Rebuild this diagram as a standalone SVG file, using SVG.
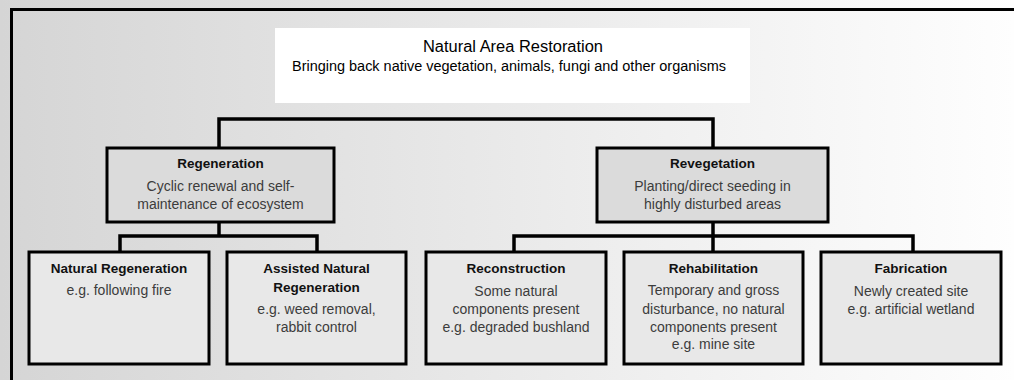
<svg xmlns="http://www.w3.org/2000/svg" width="1014" height="380" viewBox="0 0 1014 380">
  <defs>
    <linearGradient id="bg" x1="0" y1="0" x2="1" y2="0">
      <stop offset="0" stop-color="#d5d5d5"/>
      <stop offset="1" stop-color="#fefefe"/>
    </linearGradient>
  </defs>
  <style>
    .frame { fill: none; stroke: #000; stroke-width: 3; }
    .conn { fill: none; stroke: #000; stroke-width: 3.5; }
    .mid { fill: #dbdbdb; stroke: #000; stroke-width: 3; }
    .leaf { fill: #e8e8e8; stroke: #000; stroke-width: 3; }
    .top { fill: #fff; }
    text { font-family: "Liberation Sans", Arial, sans-serif; text-anchor: middle; }
    .h0 { font-size: 16px; fill: #000; }
    .h0s { font-size: 14px; fill: #000; }
    .t { font-size: 13.5px; font-weight: bold; fill: #111; }
    .d { font-size: 14px; fill: #3c3c3c; }
  </style>
  <rect x="0" y="0" width="1014" height="380" fill="url(#bg)"/>
  <path class="frame" d="M11.5,380 V9.5 H1014"/>

  <g id="connectors">
    <path class="conn" d="M219,148 V119 H713 V148"/>
    <path class="conn" d="M219,222 V236 M120,252 V236 H317 V252"/>
    <path class="conn" d="M713,222 V252 M514,252 V236 H913 V252"/>
  </g>

  <g id="root">
    <rect class="top" x="275" y="28" width="475" height="75"/>
    <text class="h0" x="513" y="52" textLength="180" lengthAdjust="spacingAndGlyphs">Natural Area Restoration</text>
    <text class="h0s" x="509" y="71" textLength="434" lengthAdjust="spacingAndGlyphs">Bringing back native vegetation, animals, fungi and other organisms</text>
  </g>

  <g id="regeneration">
    <rect class="mid" x="107" y="148" width="227" height="74"/>
    <text class="t" x="220.5" y="168">Regeneration</text>
    <text class="d" x="220.5" y="191">Cyclic renewal and self-</text>
    <text class="d" x="220.5" y="209">maintenance of ecosystem</text>
  </g>

  <g id="revegetation">
    <rect class="mid" x="597" y="148" width="231" height="74"/>
    <text class="t" x="712.5" y="168">Revegetation</text>
    <text class="d" x="712.5" y="191">Planting/direct seeding in</text>
    <text class="d" x="712.5" y="209">highly disturbed areas</text>
  </g>

  <g id="natural-regeneration">
    <rect class="leaf" x="29" y="252" width="180" height="112"/>
    <text class="t" x="119" y="273">Natural Regeneration</text>
    <text class="d" x="119" y="295">e.g. following fire</text>
  </g>

  <g id="assisted-natural-regeneration">
    <rect class="leaf" x="227" y="252" width="179" height="112"/>
    <text class="t" x="316.5" y="273">Assisted Natural</text>
    <text class="t" x="316.5" y="292">Regeneration</text>
    <text class="d" x="316.5" y="314">e.g. weed removal,</text>
    <text class="d" x="316.5" y="332">rabbit control</text>
  </g>

  <g id="reconstruction">
    <rect class="leaf" x="426" y="252" width="180" height="112"/>
    <text class="t" x="516" y="273">Reconstruction</text>
    <text class="d" x="516" y="296">Some natural</text>
    <text class="d" x="516" y="314">components present</text>
    <text class="d" x="516" y="332">e.g. degraded bushland</text>
  </g>

  <g id="rehabilitation">
    <rect class="leaf" x="624" y="252" width="179" height="112"/>
    <text class="t" x="713.5" y="273">Rehabilitation</text>
    <text class="d" x="713.5" y="295">Temporary and gross</text>
    <text class="d" x="713.5" y="314">disturbance, no natural</text>
    <text class="d" x="713.5" y="332">components present</text>
    <text class="d" x="713.5" y="349">e.g. mine site</text>
  </g>

  <g id="fabrication">
    <rect class="leaf" x="821" y="252" width="180" height="112"/>
    <text class="t" x="911" y="273">Fabrication</text>
    <text class="d" x="911" y="296">Newly created site</text>
    <text class="d" x="911" y="314">e.g. artificial wetland</text>
  </g>
</svg>
